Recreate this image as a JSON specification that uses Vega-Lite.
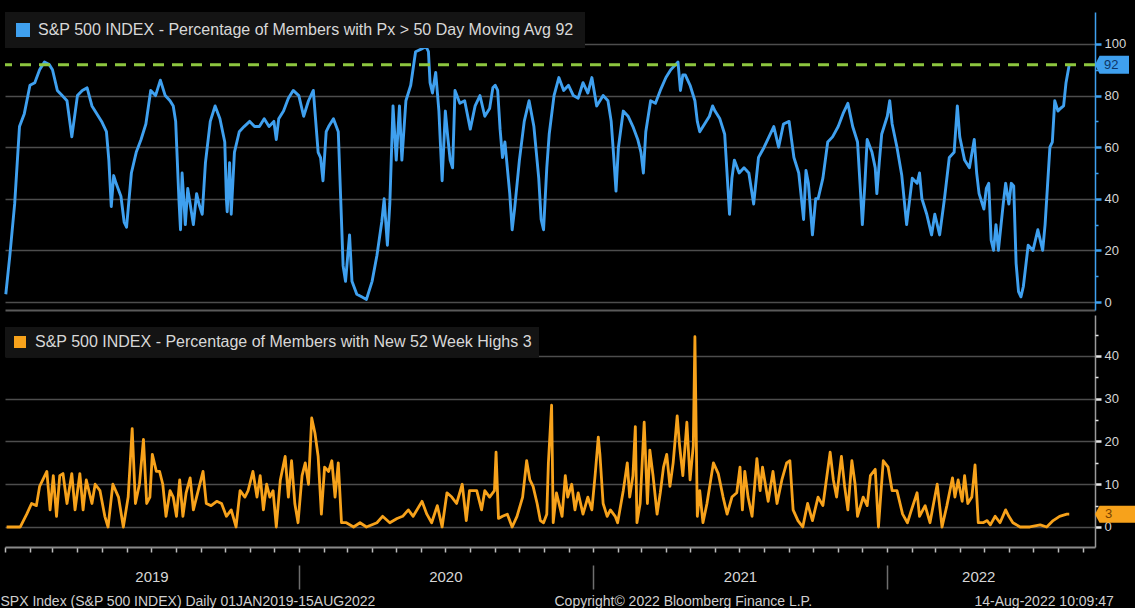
{
"$schema": "https://vega.github.io/schema/vega-lite/v6.json",
"background": "#000000",
"padding": {"left": 0, "top": 12, "right": 0, "bottom": 0},
"spacing": 5,
"config": {"font": "Liberation Sans", "view": {"stroke": null}, "axis": {"titleFontWeight": "normal", "labelFont": "Liberation Sans", "titleFont": "Liberation Sans"}, "legend": {"labelFont": "Liberation Sans"}},
"resolve": {"scale": {"color": "independent"}, "legend": {"color": "independent"}},
"datasets": {
"breadth": [
{"date":"2019-01-02","v":3},{"date":"2019-01-07","v":18},{"date":"2019-01-13","v":38},{"date":"2019-01-19","v":68},{"date":"2019-01-25","v":73},
{"date":"2019-02-01","v":84},{"date":"2019-02-07","v":85},{"date":"2019-02-13","v":90},{"date":"2019-02-19","v":93},{"date":"2019-02-25","v":92},
{"date":"2019-03-01","v":90},{"date":"2019-03-07","v":82},{"date":"2019-03-13","v":80},{"date":"2019-03-19","v":78},{"date":"2019-03-25","v":64},
{"date":"2019-04-01","v":80},{"date":"2019-04-07","v":82},{"date":"2019-04-13","v":83},{"date":"2019-04-19","v":76},{"date":"2019-04-25","v":73},
{"date":"2019-05-01","v":70},{"date":"2019-05-07","v":66},{"date":"2019-05-10","v":55},{"date":"2019-05-13","v":37},{"date":"2019-05-16","v":49},{"date":"2019-05-19","v":46},{"date":"2019-05-25","v":41},{"date":"2019-05-29","v":31},
{"date":"2019-06-01","v":29},{"date":"2019-06-07","v":50},{"date":"2019-06-13","v":58},{"date":"2019-06-19","v":63},{"date":"2019-06-25","v":69},
{"date":"2019-07-01","v":82},{"date":"2019-07-07","v":80},{"date":"2019-07-13","v":86},{"date":"2019-07-19","v":80},{"date":"2019-07-25","v":78},{"date":"2019-07-29","v":76},
{"date":"2019-08-01","v":70},{"date":"2019-08-05","v":40},{"date":"2019-08-07","v":28},{"date":"2019-08-09","v":50},{"date":"2019-08-13","v":30},{"date":"2019-08-16","v":44},{"date":"2019-08-23","v":30},{"date":"2019-08-27","v":42},{"date":"2019-08-30","v":38},
{"date":"2019-09-03","v":34},{"date":"2019-09-07","v":54},{"date":"2019-09-13","v":70},{"date":"2019-09-19","v":76},{"date":"2019-09-25","v":71},
{"date":"2019-10-01","v":62},{"date":"2019-10-03","v":40},{"date":"2019-10-04","v":35},{"date":"2019-10-07","v":54},{"date":"2019-10-09","v":34},{"date":"2019-10-13","v":58},{"date":"2019-10-19","v":66},{"date":"2019-10-25","v":68},
{"date":"2019-11-01","v":70},{"date":"2019-11-07","v":68},{"date":"2019-11-13","v":68},{"date":"2019-11-19","v":71},{"date":"2019-11-25","v":68},
{"date":"2019-12-01","v":70},{"date":"2019-12-04","v":63},{"date":"2019-12-07","v":71},{"date":"2019-12-13","v":74},{"date":"2019-12-19","v":79},{"date":"2019-12-25","v":82},
{"date":"2020-01-01","v":80},{"date":"2020-01-07","v":72},{"date":"2020-01-13","v":78},{"date":"2020-01-19","v":82},{"date":"2020-01-25","v":58},{"date":"2020-01-28","v":56},{"date":"2020-01-31","v":47},
{"date":"2020-02-04","v":66},{"date":"2020-02-07","v":68},{"date":"2020-02-13","v":71},{"date":"2020-02-19","v":66},{"date":"2020-02-22","v":40},{"date":"2020-02-25","v":14},{"date":"2020-02-28","v":8},
{"date":"2020-03-04","v":26},{"date":"2020-03-07","v":8},{"date":"2020-03-13","v":3},{"date":"2020-03-19","v":2},{"date":"2020-03-25","v":1},
{"date":"2020-04-01","v":8},{"date":"2020-04-07","v":18},{"date":"2020-04-13","v":31},{"date":"2020-04-16","v":40},{"date":"2020-04-20","v":22},{"date":"2020-04-23","v":38},{"date":"2020-04-27","v":76},
{"date":"2020-05-01","v":55},{"date":"2020-05-05","v":76},{"date":"2020-05-08","v":55},{"date":"2020-05-13","v":78},{"date":"2020-05-19","v":84},{"date":"2020-05-25","v":97},
{"date":"2020-06-01","v":98},{"date":"2020-06-07","v":99},{"date":"2020-06-10","v":97},{"date":"2020-06-12","v":85},{"date":"2020-06-15","v":81},{"date":"2020-06-19","v":89},{"date":"2020-06-23","v":74},{"date":"2020-06-27","v":47},
{"date":"2020-07-01","v":74},{"date":"2020-07-04","v":64},{"date":"2020-07-07","v":55},{"date":"2020-07-10","v":52},{"date":"2020-07-13","v":82},{"date":"2020-07-19","v":77},{"date":"2020-07-25","v":78},
{"date":"2020-08-01","v":67},{"date":"2020-08-07","v":76},{"date":"2020-08-13","v":80},{"date":"2020-08-19","v":72},{"date":"2020-08-25","v":75},{"date":"2020-08-29","v":83},
{"date":"2020-09-01","v":84},{"date":"2020-09-04","v":82},{"date":"2020-09-07","v":67},{"date":"2020-09-10","v":56},{"date":"2020-09-13","v":62},{"date":"2020-09-19","v":42},{"date":"2020-09-22","v":28},{"date":"2020-09-25","v":36},
{"date":"2020-10-01","v":55},{"date":"2020-10-07","v":70},{"date":"2020-10-13","v":78},{"date":"2020-10-19","v":68},{"date":"2020-10-25","v":48},{"date":"2020-10-28","v":32},{"date":"2020-10-31","v":28},
{"date":"2020-11-04","v":52},{"date":"2020-11-07","v":65},{"date":"2020-11-13","v":80},{"date":"2020-11-19","v":87},{"date":"2020-11-25","v":82},
{"date":"2020-12-01","v":84},{"date":"2020-12-07","v":80},{"date":"2020-12-13","v":79},{"date":"2020-12-19","v":85},{"date":"2020-12-25","v":81},{"date":"2020-12-30","v":87},
{"date":"2021-01-05","v":76},{"date":"2021-01-09","v":78},{"date":"2021-01-13","v":80},{"date":"2021-01-19","v":78},{"date":"2021-01-23","v":70},{"date":"2021-01-26","v":57},{"date":"2021-01-29","v":43},
{"date":"2021-02-01","v":60},{"date":"2021-02-07","v":74},{"date":"2021-02-13","v":72},{"date":"2021-02-19","v":68},{"date":"2021-02-25","v":63},
{"date":"2021-03-01","v":58},{"date":"2021-03-04","v":50},{"date":"2021-03-07","v":66},{"date":"2021-03-13","v":78},{"date":"2021-03-19","v":77},{"date":"2021-03-25","v":82},
{"date":"2021-04-01","v":87},{"date":"2021-04-07","v":90},{"date":"2021-04-13","v":92},{"date":"2021-04-16","v":93},{"date":"2021-04-19","v":82},{"date":"2021-04-22","v":88},{"date":"2021-04-25","v":88},
{"date":"2021-05-01","v":84},{"date":"2021-05-07","v":78},{"date":"2021-05-10","v":70},{"date":"2021-05-13","v":66},{"date":"2021-05-19","v":69},{"date":"2021-05-25","v":72},{"date":"2021-05-29","v":76},
{"date":"2021-06-01","v":74},{"date":"2021-06-07","v":71},{"date":"2021-06-13","v":65},{"date":"2021-06-19","v":34},{"date":"2021-06-22","v":48},{"date":"2021-06-25","v":55},
{"date":"2021-07-01","v":50},{"date":"2021-07-07","v":52},{"date":"2021-07-13","v":50},{"date":"2021-07-19","v":38},{"date":"2021-07-25","v":56},
{"date":"2021-08-01","v":60},{"date":"2021-08-07","v":64},{"date":"2021-08-13","v":68},{"date":"2021-08-19","v":60},{"date":"2021-08-25","v":69},
{"date":"2021-09-01","v":70},{"date":"2021-09-07","v":56},{"date":"2021-09-13","v":50},{"date":"2021-09-19","v":32},{"date":"2021-09-22","v":51},{"date":"2021-09-25","v":46},{"date":"2021-09-30","v":26},
{"date":"2021-10-04","v":40},{"date":"2021-10-07","v":40},{"date":"2021-10-13","v":48},{"date":"2021-10-19","v":62},{"date":"2021-10-25","v":64},
{"date":"2021-11-01","v":68},{"date":"2021-11-07","v":73},{"date":"2021-11-13","v":77},{"date":"2021-11-19","v":68},{"date":"2021-11-25","v":62},{"date":"2021-11-30","v":36},
{"date":"2021-12-01","v":30},{"date":"2021-12-04","v":45},{"date":"2021-12-07","v":63},{"date":"2021-12-13","v":58},{"date":"2021-12-17","v":52},{"date":"2021-12-19","v":42},{"date":"2021-12-22","v":54},{"date":"2021-12-25","v":65},
{"date":"2022-01-01","v":72},{"date":"2022-01-04","v":78},{"date":"2022-01-07","v":69},{"date":"2022-01-13","v":60},{"date":"2022-01-19","v":49},{"date":"2022-01-25","v":30},
{"date":"2022-02-01","v":48},{"date":"2022-02-07","v":46},{"date":"2022-02-10","v":50},{"date":"2022-02-13","v":40},{"date":"2022-02-19","v":34},{"date":"2022-02-25","v":26},
{"date":"2022-03-01","v":34},{"date":"2022-03-07","v":26},{"date":"2022-03-13","v":40},{"date":"2022-03-19","v":56},{"date":"2022-03-25","v":58},{"date":"2022-03-29","v":76},
{"date":"2022-04-01","v":64},{"date":"2022-04-07","v":55},{"date":"2022-04-13","v":52},{"date":"2022-04-19","v":63},{"date":"2022-04-22","v":50},{"date":"2022-04-25","v":42},
{"date":"2022-05-01","v":36},{"date":"2022-05-04","v":44},{"date":"2022-05-07","v":46},{"date":"2022-05-10","v":24},{"date":"2022-05-13","v":20},{"date":"2022-05-16","v":30},{"date":"2022-05-19","v":20},{"date":"2022-05-25","v":38},{"date":"2022-05-28","v":46},
{"date":"2022-06-01","v":38},{"date":"2022-06-04","v":46},{"date":"2022-06-07","v":45},{"date":"2022-06-10","v":15},{"date":"2022-06-13","v":4},{"date":"2022-06-16","v":2},{"date":"2022-06-19","v":6},{"date":"2022-06-25","v":22},
{"date":"2022-07-01","v":20},{"date":"2022-07-07","v":28},{"date":"2022-07-13","v":20},{"date":"2022-07-16","v":30},{"date":"2022-07-19","v":45},{"date":"2022-07-22","v":60},{"date":"2022-07-25","v":62},{"date":"2022-07-28","v":78},
{"date":"2022-08-01","v":74},{"date":"2022-08-04","v":75},{"date":"2022-08-08","v":76},{"date":"2022-08-11","v":85},{"date":"2022-08-15","v":92}
],
"highs": [
{"date":"2019-01-03","v":0},{"date":"2019-01-11","v":0},{"date":"2019-01-20","v":0},{"date":"2019-01-28","v":3},{"date":"2019-02-03","v":5.5},{"date":"2019-02-09","v":5},{"date":"2019-02-13","v":9.5},{"date":"2019-02-22","v":13},{"date":"2019-02-26","v":4},
{"date":"2019-03-02","v":12},{"date":"2019-03-06","v":2.5},{"date":"2019-03-10","v":12},{"date":"2019-03-14","v":12.5},{"date":"2019-03-19","v":5.5},{"date":"2019-03-25","v":12.5},{"date":"2019-03-29","v":4},
{"date":"2019-04-04","v":12.5},{"date":"2019-04-08","v":4},{"date":"2019-04-12","v":11},{"date":"2019-04-19","v":5.5},{"date":"2019-04-23","v":10},{"date":"2019-04-29","v":8.5},
{"date":"2019-05-05","v":2.5},{"date":"2019-05-09","v":0},{"date":"2019-05-15","v":10},{"date":"2019-05-22","v":7},{"date":"2019-05-28","v":0},
{"date":"2019-06-03","v":7},{"date":"2019-06-08","v":23},{"date":"2019-06-12","v":5.5},{"date":"2019-06-17","v":10},{"date":"2019-06-22","v":20.5},{"date":"2019-06-26","v":5.5},{"date":"2019-06-30","v":7},
{"date":"2019-07-03","v":17},{"date":"2019-07-08","v":13},{"date":"2019-07-12","v":13},{"date":"2019-07-16","v":10},{"date":"2019-07-20","v":2.5},{"date":"2019-07-25","v":8.5},{"date":"2019-07-29","v":7},
{"date":"2019-08-02","v":2.5},{"date":"2019-08-06","v":11},{"date":"2019-08-10","v":2.5},{"date":"2019-08-14","v":8},{"date":"2019-08-19","v":11.5},{"date":"2019-08-23","v":4},{"date":"2019-08-29","v":8.5},
{"date":"2019-09-04","v":13},{"date":"2019-09-08","v":5.5},{"date":"2019-09-14","v":5},{"date":"2019-09-21","v":6},{"date":"2019-09-27","v":5.5},
{"date":"2019-10-03","v":2.5},{"date":"2019-10-09","v":4},{"date":"2019-10-15","v":0},{"date":"2019-10-20","v":8.5},{"date":"2019-10-26","v":7},{"date":"2019-10-30","v":8.5},
{"date":"2019-11-05","v":13},{"date":"2019-11-10","v":7},{"date":"2019-11-14","v":12},{"date":"2019-11-18","v":4},{"date":"2019-11-22","v":10},{"date":"2019-11-26","v":7},{"date":"2019-11-30","v":8.5},
{"date":"2019-12-04","v":0},{"date":"2019-12-09","v":11},{"date":"2019-12-15","v":16.5},{"date":"2019-12-19","v":7},{"date":"2019-12-23","v":15.5},{"date":"2019-12-27","v":5.5},{"date":"2019-12-31","v":1},
{"date":"2020-01-05","v":12},{"date":"2020-01-09","v":15},{"date":"2020-01-13","v":10},{"date":"2020-01-17","v":25.5},{"date":"2020-01-21","v":22},{"date":"2020-01-25","v":16.5},{"date":"2020-01-29","v":3},
{"date":"2020-02-02","v":14},{"date":"2020-02-07","v":13},{"date":"2020-02-11","v":15.5},{"date":"2020-02-15","v":7},{"date":"2020-02-19","v":15},{"date":"2020-02-23","v":1},{"date":"2020-02-29","v":1},
{"date":"2020-03-09","v":0},{"date":"2020-03-17","v":1},{"date":"2020-03-25","v":0},{"date":"2020-04-07","v":1},{"date":"2020-04-14","v":2.5},{"date":"2020-04-23","v":1},
{"date":"2020-05-02","v":2},{"date":"2020-05-09","v":2.5},{"date":"2020-05-16","v":4},{"date":"2020-05-22","v":2.5},
{"date":"2020-06-02","v":6},{"date":"2020-06-08","v":3},{"date":"2020-06-14","v":1},{"date":"2020-06-21","v":5},{"date":"2020-06-27","v":0},
{"date":"2020-07-03","v":8},{"date":"2020-07-09","v":7},{"date":"2020-07-15","v":5.5},{"date":"2020-07-22","v":10},{"date":"2020-07-27","v":1.5},{"date":"2020-07-31","v":8.5},
{"date":"2020-08-09","v":8.5},{"date":"2020-08-15","v":4},{"date":"2020-08-19","v":8.5},{"date":"2020-08-25","v":7},{"date":"2020-08-31","v":8.5},
{"date":"2020-09-02","v":17.5},{"date":"2020-09-05","v":2},{"date":"2020-09-10","v":2.5},{"date":"2020-09-16","v":3},{"date":"2020-09-22","v":0},{"date":"2020-09-28","v":2.5},
{"date":"2020-10-05","v":7},{"date":"2020-10-10","v":15.5},{"date":"2020-10-14","v":11},{"date":"2020-10-18","v":9.5},{"date":"2020-10-23","v":5.5},{"date":"2020-10-27","v":1.5},{"date":"2020-10-31","v":1},
{"date":"2020-11-04","v":3},{"date":"2020-11-06","v":15},{"date":"2020-11-10","v":28.5},{"date":"2020-11-12","v":1},{"date":"2020-11-16","v":8},{"date":"2020-11-23","v":2.5},{"date":"2020-11-27","v":12},{"date":"2020-11-30","v":7},
{"date":"2020-12-05","v":10},{"date":"2020-12-09","v":4},{"date":"2020-12-13","v":8},{"date":"2020-12-19","v":3},{"date":"2020-12-25","v":7},{"date":"2020-12-30","v":4},
{"date":"2021-01-03","v":12},{"date":"2021-01-07","v":21},{"date":"2021-01-09","v":17},{"date":"2021-01-13","v":5.5},{"date":"2021-01-18","v":2.5},{"date":"2021-01-22","v":4},{"date":"2021-01-28","v":2.5},{"date":"2021-01-31","v":1},
{"date":"2021-02-07","v":8.5},{"date":"2021-02-12","v":15},{"date":"2021-02-15","v":7},{"date":"2021-02-19","v":12},{"date":"2021-02-22","v":23.5},{"date":"2021-02-24","v":1},{"date":"2021-02-28","v":5.5},
{"date":"2021-03-05","v":24.5},{"date":"2021-03-09","v":5.5},{"date":"2021-03-12","v":18},{"date":"2021-03-16","v":12},{"date":"2021-03-21","v":3},{"date":"2021-03-25","v":8},{"date":"2021-03-29","v":14},
{"date":"2021-04-02","v":17},{"date":"2021-04-06","v":9.5},{"date":"2021-04-10","v":15},{"date":"2021-04-15","v":26},{"date":"2021-04-18","v":19},{"date":"2021-04-22","v":12},{"date":"2021-04-27","v":24.5},
{"date":"2021-05-01","v":11},{"date":"2021-05-05","v":19},{"date":"2021-05-07","v":44.5},{"date":"2021-05-10","v":2.5},{"date":"2021-05-13","v":8.5},{"date":"2021-05-17","v":1},{"date":"2021-05-22","v":5.5},{"date":"2021-05-30","v":15},
{"date":"2021-06-05","v":12.5},{"date":"2021-06-11","v":7},{"date":"2021-06-16","v":3},{"date":"2021-06-22","v":7},{"date":"2021-06-28","v":8},
{"date":"2021-07-02","v":14},{"date":"2021-07-05","v":4},{"date":"2021-07-08","v":13},{"date":"2021-07-12","v":7},{"date":"2021-07-17","v":2.5},{"date":"2021-07-23","v":16},{"date":"2021-07-27","v":8.5},{"date":"2021-07-30","v":14},
{"date":"2021-08-06","v":6},{"date":"2021-08-12","v":13},{"date":"2021-08-17","v":5.5},{"date":"2021-08-23","v":11},{"date":"2021-08-29","v":15},
{"date":"2021-09-02","v":15.5},{"date":"2021-09-06","v":4},{"date":"2021-09-12","v":1.5},{"date":"2021-09-18","v":0},{"date":"2021-09-24","v":5.5},{"date":"2021-09-30","v":1.5},
{"date":"2021-10-07","v":7},{"date":"2021-10-13","v":5},{"date":"2021-10-18","v":12},{"date":"2021-10-22","v":17.5},{"date":"2021-10-26","v":11},{"date":"2021-10-30","v":7},
{"date":"2021-11-05","v":16.5},{"date":"2021-11-09","v":9.5},{"date":"2021-11-13","v":4},{"date":"2021-11-18","v":15.5},{"date":"2021-11-22","v":10},{"date":"2021-11-25","v":2.5},
{"date":"2021-12-02","v":7},{"date":"2021-12-07","v":5},{"date":"2021-12-11","v":12},{"date":"2021-12-17","v":13.5},{"date":"2021-12-21","v":0},{"date":"2021-12-27","v":15.5},
{"date":"2022-01-02","v":14},{"date":"2022-01-07","v":8.5},{"date":"2022-01-13","v":8.5},{"date":"2022-01-20","v":3},{"date":"2022-01-26","v":1},{"date":"2022-01-31","v":4},
{"date":"2022-02-07","v":8},{"date":"2022-02-10","v":2.5},{"date":"2022-02-17","v":5},{"date":"2022-02-23","v":1},
{"date":"2022-03-04","v":10},{"date":"2022-03-10","v":0},{"date":"2022-03-16","v":5},{"date":"2022-03-23","v":11.5},{"date":"2022-03-26","v":7},{"date":"2022-03-30","v":11},
{"date":"2022-04-04","v":6},{"date":"2022-04-07","v":12},{"date":"2022-04-11","v":5.5},{"date":"2022-04-16","v":7},{"date":"2022-04-20","v":14.5},{"date":"2022-04-24","v":1},{"date":"2022-04-30","v":1},
{"date":"2022-05-05","v":1.5},{"date":"2022-05-09","v":0.5},{"date":"2022-05-15","v":2.5},{"date":"2022-05-21","v":1},{"date":"2022-05-28","v":4},
{"date":"2022-06-01","v":2.5},{"date":"2022-06-06","v":1},{"date":"2022-06-15","v":0},{"date":"2022-06-27","v":0},
{"date":"2022-07-10","v":0.5},{"date":"2022-07-18","v":0},{"date":"2022-07-26","v":1.5},{"date":"2022-08-03","v":2.5},{"date":"2022-08-12","v":3},{"date":"2022-08-15","v":3}
]
},
"vconcat": [
{
"width": 1090, "height": 298,
"data": {"name": "breadth"},
"resolve": {"axis": {"x": "independent", "y": "independent"}},
"layer": [
{"mark": {"type": "line", "strokeWidth": 2.9, "strokeJoin": "round"},
 "encoding": {
  "x": {"field": "date", "type": "temporal", "scale": {"domain": [{"year": 2019, "month": 1, "date": 1}, {"year": 2022, "month": 9, "date": 16}]}, "axis": {"orient": "bottom", "labels": false, "ticks": false, "grid": false, "domain": true, "domainColor": "#5a5a5a", "domainWidth": 2, "title": null}},
  "y": {"field": "v", "type": "quantitative", "scale": {"domain": [-3.1, 112.4], "nice": false, "zero": false}, "axis": {"orient": "right", "values": [0, 20, 40, 60, 80, 100], "title": null, "grid": true, "gridColor": "#4d4d4d", "gridWidth": 1.5, "domainColor": "#3fa0ef", "domainWidth": 1.5, "tickColor": "#3fa0ef", "tickSize": 6, "tickWidth": 2.5, "labelColor": "#d6d6d6", "labelFontSize": 13, "labelPadding": 3}},
  "color": {"datum": "S&P 500 INDEX - Percentage of Members with Px > 50 Day Moving Avg 92", "type": "nominal", "scale": {"range": ["#3fa0ef"]}, "legend": {"orient": "none", "legendX": 0, "legendY": 0, "title": null, "fillColor": "#141414", "padding": 10, "labelFontSize": 16, "labelColor": "#d8d8d8", "labelLimit": 800, "labelOffset": 7, "symbolType": "square", "symbolSize": 196, "symbolFillColor": "#3fa0ef", "symbolStrokeWidth": 0, "encode": {"symbols": {"update": {"fill": {"value": "#3fa0ef"}, "strokeWidth": {"value": 0}}}}}}
 }},
{"data": {"values": [{}]},
 "mark": {"type": "rule", "color": "#8dc63f", "strokeWidth": 3, "strokeDash": [11, 8]},
 "encoding": {"y": {"datum": 92, "type": "quantitative", "axis": {"orient": "right", "values": [10, 30, 50, 70, 90], "labels": false, "grid": false, "domain": false, "tickColor": "#3fa0ef", "tickSize": 3, "tickWidth": 1.5, "title": null}}}},
{"data": {"values": [{"last": 92}]},
 "mark": {"type": "point", "shape": "M0,0L0.45,-0.9L3.4,-0.9L3.4,0.9L0.45,0.9Z", "filled": true, "size": 400, "color": "#3fa0ef", "opacity": 1, "strokeWidth": 0},
 "encoding": {"x": {"datum": {"year": 2022, "month": 9, "date": 16}, "type": "temporal", "axis": null}, "y": {"field": "last", "type": "quantitative", "axis": null}}},
{"data": {"values": [{"last": 92}]},
 "mark": {"type": "text", "align": "left", "baseline": "middle", "dx": 9, "fontSize": 13, "color": "#0d3566"},
 "encoding": {"x": {"datum": {"year": 2022, "month": 9, "date": 16}, "type": "temporal", "axis": null}, "y": {"field": "last", "type": "quantitative", "axis": null}, "text": {"field": "last", "type": "quantitative"}}}
]
},
{
"width": 1090, "height": 232,
"data": {"name": "highs"},
"resolve": {"axis": {"x": "independent", "y": "independent"}},
"layer": [
{"mark": {"type": "line", "strokeWidth": 2.8, "strokeJoin": "round"},
 "encoding": {
  "x": {"field": "date", "type": "temporal", "scale": {"domain": [{"year": 2019, "month": 1, "date": 1}, {"year": 2022, "month": 9, "date": 16}]}, "axis": {"orient": "bottom", "labels": false, "tickCount": {"interval": "month", "step": 1}, "tickSize": 5, "tickColor": "#bdbdbd", "tickWidth": 1.5, "domainColor": "#8a8a8a", "domainWidth": 2, "grid": false, "title": "14-Aug-2022 10:09:47", "titleX": 969, "titleY": 54, "titleAlign": "left", "titleAnchor": null, "titleBaseline": "middle", "titleFontSize": 14, "titleColor": "#cfcfcf"}},
  "y": {"field": "v", "type": "quantitative", "scale": {"domain": [-4.68, 49.59], "nice": false, "zero": false}, "axis": {"orient": "right", "values": [0, 10, 20, 30, 40], "title": null, "grid": true, "gridColor": "#4d4d4d", "gridWidth": 1.5, "domainColor": "#9a9a9a", "domainWidth": 1.5, "tickColor": "#e6e6e6", "tickSize": 6, "tickWidth": 2.5, "labelColor": "#d6d6d6", "labelFontSize": 13, "labelPadding": 3}},
  "color": {"datum": "S&P 500 INDEX - Percentage of Members with New 52 Week Highs 3", "type": "nominal", "scale": {"range": ["#f7a21b"]}, "legend": {"orient": "none", "legendX": 0, "legendY": 12, "title": null, "fillColor": "#141414", "padding": 7, "labelFontSize": 16, "labelColor": "#d8d8d8", "labelLimit": 800, "labelOffset": 7, "symbolType": "square", "symbolSize": 144, "symbolFillColor": "#f7a21b", "symbolStrokeWidth": 0, "encode": {"symbols": {"update": {"fill": {"value": "#f7a21b"}, "strokeWidth": {"value": 0}}}}}}
 }},
{"data": {"values": [{"last": 3}]},
 "mark": {"type": "point", "shape": "M0,0L0.45,-0.85L4,-0.85L4,0.85L0.45,0.85Z", "filled": true, "size": 400, "color": "#f7a21b", "opacity": 1, "strokeWidth": 0},
 "encoding": {
  "x": {"datum": {"year": 2022, "month": 9, "date": 16}, "type": "temporal", "axis": {"orient": "bottom", "offset": 20, "values": [{"year": 2019, "month": 7, "date": 2}, {"year": 2020, "month": 7, "date": 1}, {"year": 2021, "month": 7, "date": 2}, {"year": 2022, "month": 4, "date": 24}], "format": "%Y", "labelFontSize": 15, "labelColor": "#d6d6d6", "labelPadding": 2, "ticks": false, "tickSize": 0, "domain": false, "grid": false, "labelFlush": false, "labelOverlap": false, "title": "Copyright© 2022 Bloomberg Finance L.P.", "titleX": 549, "titleY": 34, "titleAlign": "left", "titleBaseline": "middle", "titleFontSize": 14, "titleColor": "#cfcfcf"}},
  "y": {"field": "last", "type": "quantitative", "axis": {"orient": "right", "values": [5, 15, 25, 35, 45], "labels": false, "grid": false, "domain": false, "tickColor": "#e6e6e6", "tickSize": 3, "tickWidth": 1.5, "title": null}}}},
{"data": {"values": [{"last": 3}]},
 "mark": {"type": "text", "align": "left", "baseline": "middle", "dx": 10, "fontSize": 13, "color": "#7a4200"},
 "encoding": {
  "x": {"datum": {"year": 2022, "month": 9, "date": 16}, "type": "temporal", "axis": {"orient": "bottom", "offset": 18, "values": [{"year": 2020, "month": 1, "date": 1}, {"year": 2021, "month": 1, "date": 1}, {"year": 2022, "month": 1, "date": 1}], "labels": false, "domain": false, "grid": false, "tickSize": 24, "tickColor": "#6e6e6e", "tickWidth": 1.5, "title": "SPX Index (S&P 500 INDEX)  Daily 01JAN2019-15AUG2022", "titleX": -5, "titleY": 36, "titleAlign": "left", "titleBaseline": "middle", "titleFontSize": 14, "titleColor": "#cfcfcf"}},
  "y": {"field": "last", "type": "quantitative", "axis": null},
  "text": {"field": "last", "type": "quantitative"}}}
]
}
]
}
